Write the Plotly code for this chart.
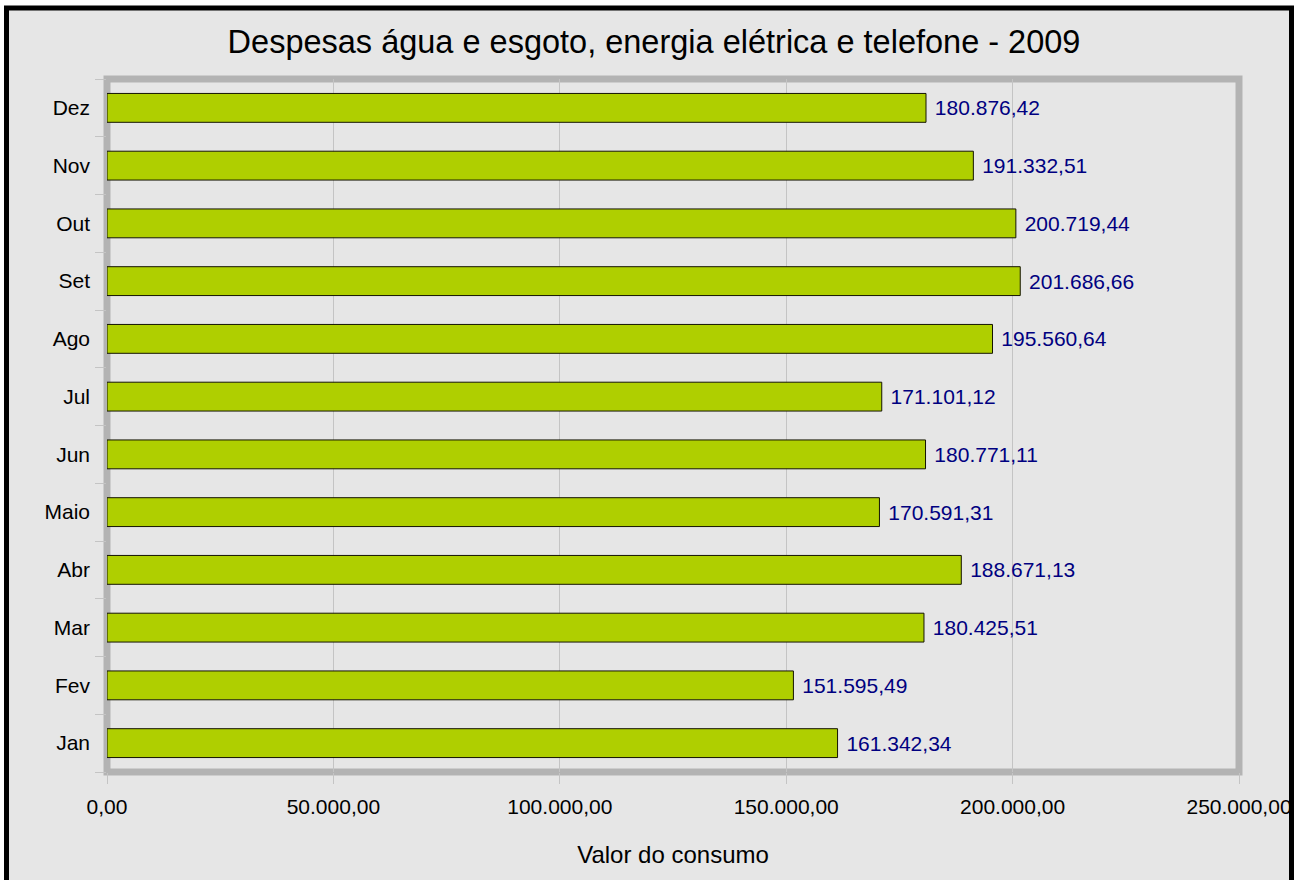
import plotly.graph_objects as go

months = ["Jan", "Fev", "Mar", "Abr", "Maio", "Jun", "Jul", "Ago", "Set", "Out", "Nov", "Dez"]
values = [161342.34, 151595.49, 180425.51, 188671.13, 170591.31, 180771.11,
          171101.12, 195560.64, 201686.66, 200719.44, 191332.51, 180876.42]
x_ticks = [0, 50000, 100000, 150000, 200000, 250000]

W, H = 1299, 880
ML, MR, MT, MB = 107, 60, 79, 108
PW, PH = W - ML - MR, H - MT - MB

def px_x(p):
    return (p - ML) / PW

def px_y(p):
    return (H - MB - p) / PH

FONT = "Liberation Sans, Arial, sans-serif"
FRAME = "#b3b3b3"

fig = go.Figure()
fig.add_trace(go.Bar(
    y=months, x=values, orientation="h",
    marker=dict(color="#afcf00", line=dict(color="#141400", width=1)),
    texttemplate=" %{x:,.2f}", textposition="outside",
    textfont=dict(color="#000080", size=21, family=FONT),
    cliponaxis=False, hoverinfo="skip",
))

fig.update_layout(
    width=W, height=H,
    margin=dict(l=ML, r=MR, t=MT, b=MB, pad=0, autoexpand=False),
    paper_bgcolor="white", plot_bgcolor="#e6e6e6",
    separators=",.",
    bargap=0.5,
    showlegend=False,
    font=dict(family=FONT, size=21, color="black"),
    title=dict(text="Despesas água e esgoto, energia elétrica e telefone - 2009",
               x=654 / W, xanchor="center", xref="container",
               y=1 - 42 / H, yanchor="middle", yref="container",
               font=dict(size=32.5, family=FONT, color="black")),
    xaxis=dict(range=[0, 250000], tickvals=x_ticks, tickformat=",.2f",
               showgrid=True, gridcolor="#c4c4c4", gridwidth=1,
               zeroline=False, showline=False,
               ticks="outside", ticklen=11, tickcolor="#c4c4c4", tickwidth=1,
               tickfont=dict(size=21), ticklabelstandoff=5,
               title=dict(text="Valor do consumo", font=dict(size=24), standoff=28),
               automargin=False, fixedrange=True),
    yaxis=dict(type="category", categoryorder="array", categoryarray=months,
               showgrid=False, zeroline=False, showline=False,
               ticks="outside", ticklen=11, tickcolor="#c4c4c4", tickwidth=1,
               tickson="boundaries", tickfont=dict(size=21),
               ticklabelstandoff=16, automargin=False, fixedrange=True),
)

# chart area background and outer border
fig.add_shape(type="rect", xref="paper", yref="paper",
              x0=px_x(4), x1=px_x(1294), y0=px_y(890), y1=px_y(6),
              fillcolor="#e6e6e6", line=dict(width=0), layer="below")
# plot frame
fig.add_shape(type="rect", xref="x domain", yref="y domain",
              x0=0, x1=1, y0=0, y1=1,
              line=dict(color=FRAME, width=7), layer="below")
fig.add_shape(type="rect", xref="paper", yref="paper",
              x0=px_x(6.5), x1=px_x(1291.5), y0=px_y(886), y1=px_y(8),
              line=dict(color="black", width=5), fillcolor="rgba(0,0,0,0)", layer="above")
fig.add_shape(type="rect", xref="paper", yref="paper",
              x0=px_x(1294), x1=px_x(1305), y0=px_y(890), y1=px_y(-5),
              line=dict(width=0), fillcolor="white", layer="above")

fig.write_html("out.html",
               config={"displayModeBar": False, "staticPlot": True},
               post_script="document.body.style.margin='0';document.body.style.overflow='hidden';")
